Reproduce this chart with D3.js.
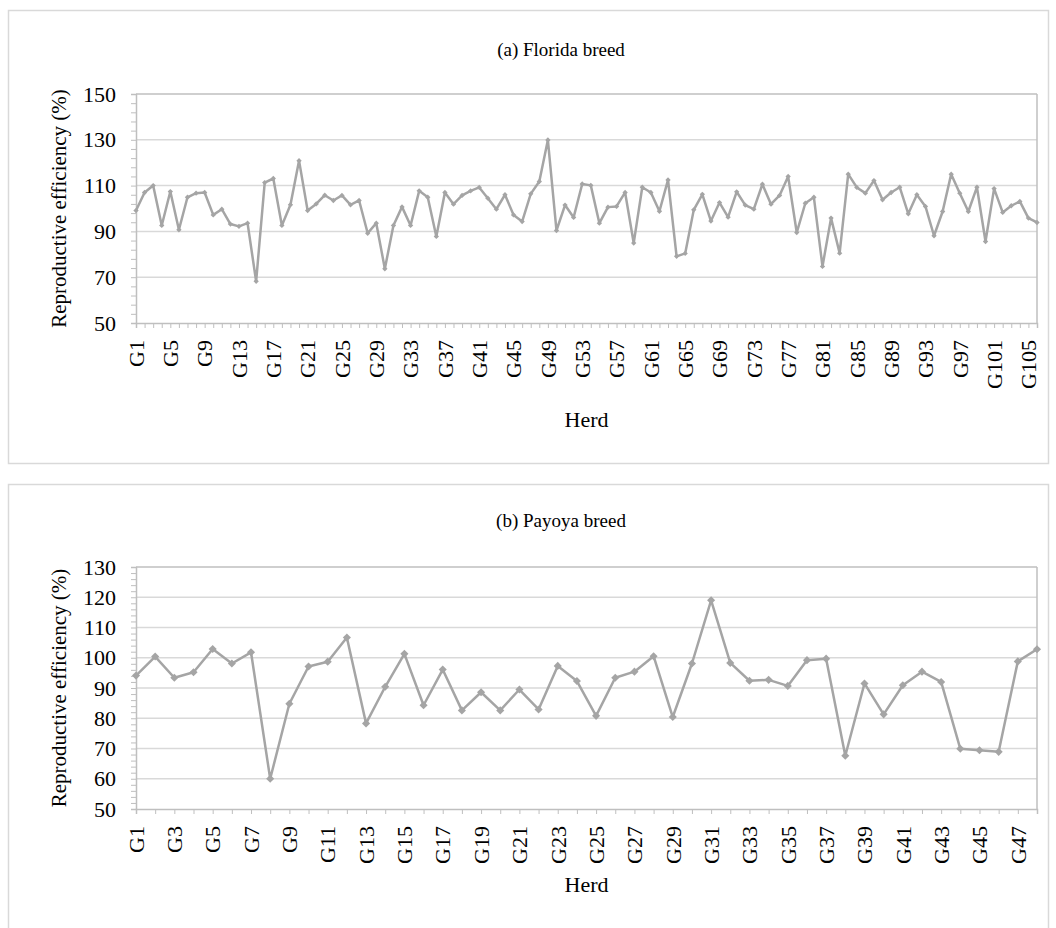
<!DOCTYPE html>
<html>
<head>
<meta charset="utf-8">
<script src="https://cdn.jsdelivr.net/npm/d3@7"></script>
<style>
    body { margin: 0; background: #fff; }
</style>
</head>
<body>
<svg id="chart" width="1056" height="928"></svg>
<script>
// herd values
var floridaValues = [
    99.1, 107, 110, 92.6, 107.4, 90.7, 104.9, 106.7, 107, 97.2,
    99.7, 93.2, 92.2, 93.6, 68.2, 111.3, 113.1, 92.6, 101.6, 120.9,
    99.1, 102, 105.8, 103.5, 105.7, 101.6, 103.5, 89.2, 93.6, 73.7,
    92.6, 100.7, 92.6, 107.7, 104.9, 87.8, 107, 101.9, 105.7, 107.7,
    109.2, 104.5, 99.7, 106, 97.2, 94.3, 106.4, 111.8, 129.9, 90.4,
    101.5, 96.1, 110.7, 110.1, 93.6, 100.6, 100.9, 107, 84.9, 109.3,
    107, 98.8, 112.5, 79.1, 80.4, 99.4, 106.2, 94.5, 102.6, 96.2,
    107.3, 101.5, 99.7, 110.6, 101.9, 105.7, 114, 89.5, 102.3, 104.9,
    74.7, 95.8, 80.5, 115, 109.2, 106.7, 112.2, 103.8, 107, 109.3,
    97.7, 106, 100.9, 88.1, 98.7, 115, 106.7, 98.7, 109.3, 85.6,
    108.7, 98.3, 101.2, 103.1, 95.8, 93.9
];

var payoyaValues = [
    94.1, 100.4, 93.4, 95.2, 102.9, 98.1, 101.8, 60, 84.8, 97.1,
    98.7, 106.7, 78.3, 90.4, 101.3, 84.3, 96.1, 82.6, 88.6, 82.6,
    89.5, 82.9, 97.3, 92.3, 80.8, 93.4, 95.4, 100.5, 80.4, 98.1,
    119, 98.3, 92.4, 92.7, 90.7, 99.2, 99.7, 67.6, 91.5, 81.3,
    90.9, 95.4, 92, 69.9, 69.4, 68.9, 98.8, 102.8
];

var floridaHerds = floridaValues.map(function (d, i) { return "G" + (i + 1); });
var payoyaHerds = payoyaValues.map(function (d, i) { return "G" + (i + 1); });

var floridaTicks = [50, 70, 90, 110, 130, 150];
var payoyaTicks = [50, 60, 70, 80, 90, 100, 110, 120, 130];

var serif = "'Liberation Serif', 'Times New Roman', serif";

var svg = d3.select("#chart");

function serifText(sel, size) {
    sel.style("font-family", serif).style("font-size", size + "px").style("fill", "#000");
}

function drawPanel(opts) {
    var g = svg.append("g"),
        x, y, line, yMinor;

    g.append("rect")
        .attr("x", opts.box[0] + 0.5).attr("y", opts.box[1] + 0.5)
        .attr("width", opts.box[2]).attr("height", opts.box[3])
        .attr("fill", "#fff").attr("stroke", "#d9d9d9").attr("stroke-width", 1.5);

    x = d3.scalePoint().domain(opts.herds).range([opts.left, opts.right]).padding(0);
    y = d3.scaleLinear().domain([opts.ticks[0], opts.ticks[opts.ticks.length - 1]]).range([opts.bottom, opts.top]);

    // gridlines
    g.append("g")
        .selectAll("line")
        .data(opts.ticks.slice(1))
        .enter()
        .append("line")
        .attr("x1", opts.left).attr("x2", opts.right)
        .attr("y1", function (d) { return y(d); })
        .attr("y2", function (d) { return y(d); })
        .attr("stroke", function (d, i) { return i === opts.ticks.length - 2 ? "#bfbfbf" : "#d9d9d9"; })
        .attr("stroke-width", 1.5);

    // right border of plot area
    g.append("line")
        .attr("x1", opts.right).attr("x2", opts.right)
        .attr("y1", opts.top).attr("y2", opts.bottom)
        .attr("stroke", "#bfbfbf").attr("stroke-width", 1.5);

    // minor ticks on y
    yMinor = d3.range(opts.ticks[0], opts.ticks[opts.ticks.length - 1] + 0.001, opts.minor);
    g.append("g")
        .attr("transform", "translate(" + opts.left + ",0)")
        .call(d3.axisLeft(y).tickValues(yMinor).tickSize(5).tickFormat(""))
        .call(function (a) {
            a.select(".domain").attr("stroke", "#bfbfbf").attr("stroke-width", 1.5);
            a.selectAll(".tick line").attr("stroke", "#bfbfbf");
        });

    g.append("g")
        .attr("transform", "translate(" + opts.left + ",0)")
        .call(d3.axisLeft(y).tickValues(opts.ticks).tickSize(0).tickPadding(20))
        .call(function (a) {
            a.select(".domain").remove();
            a.selectAll("text").call(serifText, 22);
        });

    // x axis
    g.append("g")
        .attr("transform", "translate(0," + opts.bottom + ")")
        .call(d3.axisBottom(x).tickSize(5).tickPadding(0).tickFormat(function (d, i) {
            return i % opts.every === 0 ? d : "";
        }))
        .call(function (a) {
            a.select(".domain").attr("stroke", "#bfbfbf").attr("stroke-width", 1.5);
            a.selectAll(".tick line").attr("stroke", "#bfbfbf");
            a.selectAll("text")
                .call(serifText, 22)
                .attr("transform", "rotate(-90)")
                .attr("text-anchor", "end")
                .attr("x", -17)
                .attr("y", 0)
                .attr("dy", "0.33em");
        });

    line = d3.line()
        .x(function (d, i) { return x(opts.herds[i]); })
        .y(function (d) { return y(d); });

    g.append("path")
        .datum(opts.values)
        .attr("d", line)
        .attr("fill", "none")
        .attr("stroke", "#a5a5a5")
        .attr("stroke-width", 2.5)
        .attr("stroke-linejoin", "round");

    g.append("g")
        .selectAll("path")
        .data(opts.values)
        .enter()
        .append("path")
        .attr("d", d3.symbol().type(d3.symbolDiamond2).size(opts.marker))
        .attr("transform", function (d, i) {
            return "translate(" + x(opts.herds[i]) + "," + y(d) + ")";
        })
        .attr("fill", "#a5a5a5");

    g.append("text")
        .attr("x", opts.titleX)
        .attr("y", opts.titleY)
        .attr("text-anchor", "middle")
        .call(serifText, 19)
        .text(opts.title);

    g.append("text")
        .attr("x", (opts.left + opts.right) / 2)
        .attr("y", opts.herdY)
        .attr("text-anchor", "middle")
        .call(serifText, 22)
        .text("Herd");

    g.append("text")
        .attr("transform", "translate(66," + (opts.top + opts.bottom) / 2 + ") rotate(-90)")
        .attr("text-anchor", "middle")
        .call(serifText, 21)
        .text("Reproductive efficiency (%)");
}

drawPanel({
    box: [8, 10, 1040, 453],
    left: 136, right: 1037, top: 94, bottom: 323,
    herds: floridaHerds, values: floridaValues,
    ticks: floridaTicks, minor: 4, every: 4,
    marker: 18,
    title: "(a) Florida breed", titleX: 561, titleY: 56, herdY: 427
});

drawPanel({
    box: [8, 484, 1040, 460],
    left: 136, right: 1037, top: 567, bottom: 809,
    herds: payoyaHerds, values: payoyaValues,
    ticks: payoyaTicks, minor: 2, every: 2,
    marker: 42,
    title: "(b) Payoya breed", titleX: 561, titleY: 527, herdY: 892
});
</script>
</body>
</html>
